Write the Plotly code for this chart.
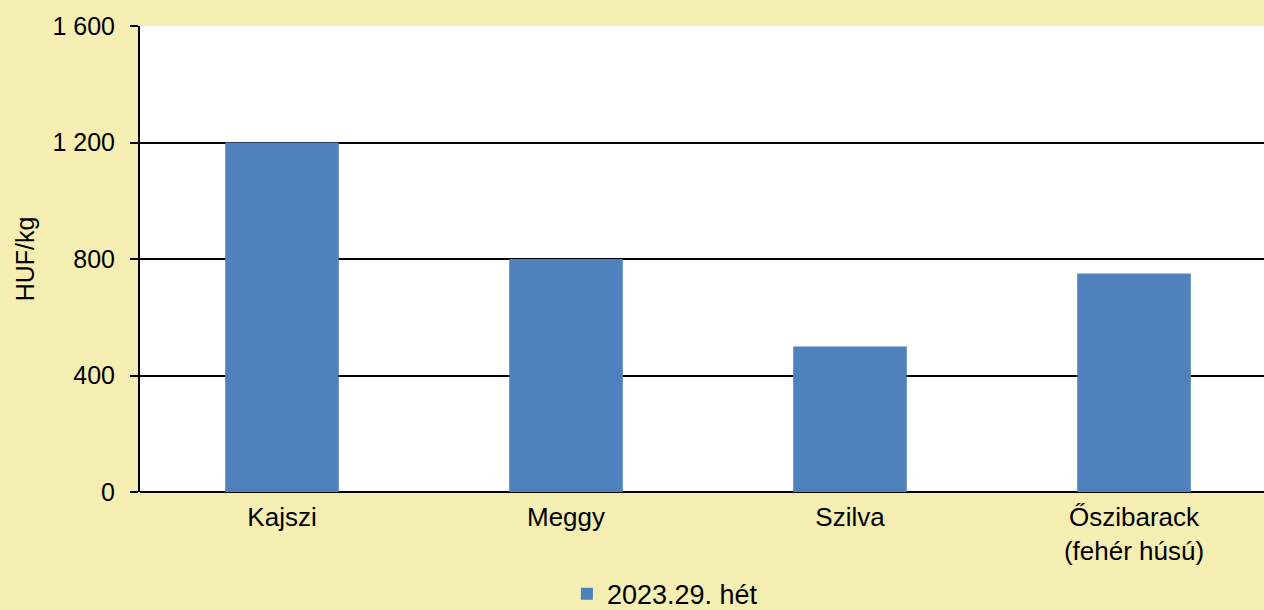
import plotly.graph_objects as go

categories = ["Kajszi", "Meggy", "Szilva", "Őszibarack<br>(fehér húsú)"]
values = [1200, 800, 500, 750]
series_name = "2023.29. hét"
tick_vals = [0, 400, 800, 1200, 1600]
tick_text = ["0", "400", "800", "1 200", "1 600"]

fig = go.Figure()
fig.add_trace(go.Bar(
    x=list(range(len(categories))), y=values, name=series_name,
    marker=dict(color="#4F81BD", line=dict(width=0)), width=0.4,
    showlegend=True,
))

fig.update_layout(
    width=1264, height=610,
    paper_bgcolor="#F5EEB3", plot_bgcolor="#FFFFFF",
    font=dict(family="Liberation Sans, Arial", size=25, color="#000000"),
    margin=dict(l=140, r=0, t=26, b=118, autoexpand=False),
    showlegend=True,
    legend=dict(orientation="h", x=0.467, xanchor="center",
                yref="container", y=0.026, yanchor="middle",
                font=dict(size=27), bgcolor="rgba(0,0,0,0)", itemwidth=30),
    xaxis=dict(
        range=[-0.5, 3.5 - 12/284], tickvals=list(range(len(categories))), ticktext=categories,
        showgrid=False, showline=False, ticks="", zeroline=False, fixedrange=True,
        tickfont=dict(size=26), ticklabelstandoff=7, automargin=False,
    ),
    yaxis=dict(
        range=[0, 1600], tickvals=tick_vals, ticktext=tick_text,
        showgrid=True, gridcolor="#000000", gridwidth=2,
        showline=True, linecolor="#000000", linewidth=2,
        ticks="outside", ticklen=8, tickwidth=2, tickcolor="#000000",
        ticklabelstandoff=10, automargin=False,
        zeroline=True, zerolinecolor="#000000", zerolinewidth=2,
        title=dict(text="HUF/kg", standoff=11, font=dict(size=25)),
    ),
)

fig.write_html("out.html", config={"displayModeBar": False},
               post_script="document.body.style.margin='0px';")
